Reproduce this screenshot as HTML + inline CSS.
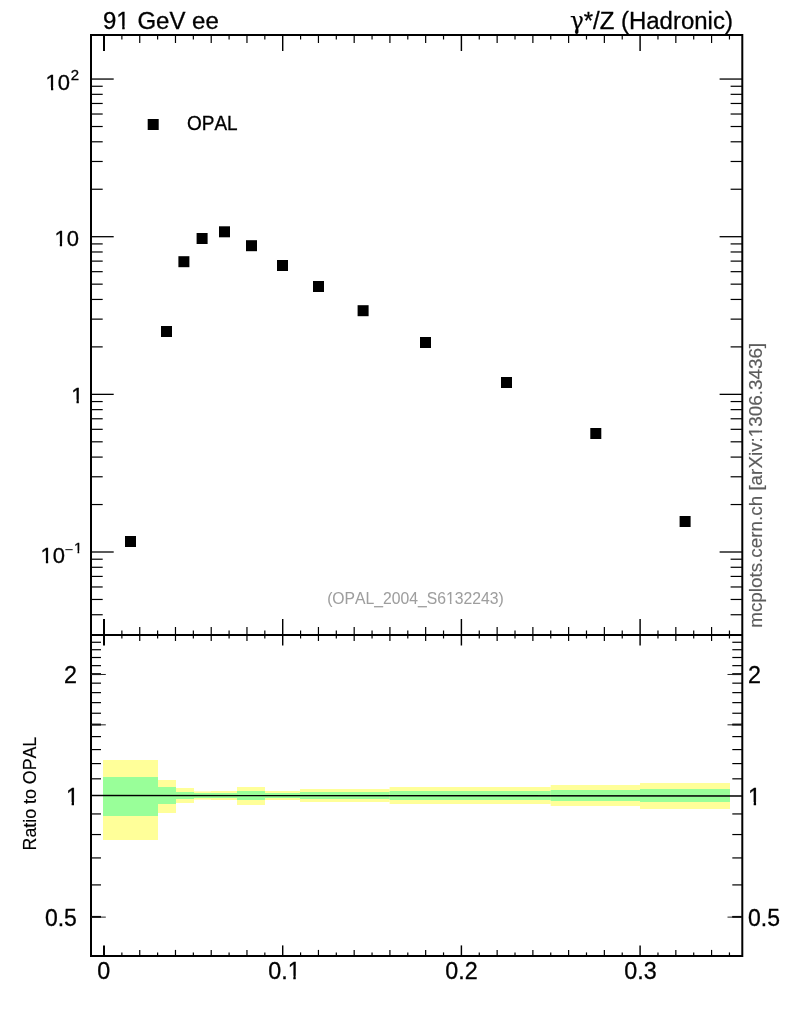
<!DOCTYPE html>
<html lang="en"><head><meta charset="utf-8"><title>OPAL 91 GeV ee</title>
<style>html,body{margin:0;padding:0;background:#fff;overflow:hidden}svg{display:block}text{font-kerning:none;white-space:pre}</style></head>
<body>
<svg width="786" height="1024" viewBox="0 0 786 1024" font-family="'Liberation Sans', 'DejaVu Sans', sans-serif">
<rect x="0.00" y="0.00" width="786.00" height="1024.00" fill="#fff"/>
<g>
<rect x="103.00" y="760.00" width="55.00" height="80.00" fill="#ffff99"/>
<rect x="158.00" y="780.00" width="18.00" height="33.00" fill="#ffff99"/>
<rect x="176.00" y="788.00" width="18.00" height="15.00" fill="#ffff99"/>
<rect x="194.00" y="791.40" width="17.00" height="8.20" fill="#ffff99"/>
<rect x="211.00" y="791.00" width="26.00" height="9.00" fill="#ffff99"/>
<rect x="237.00" y="787.00" width="28.00" height="18.00" fill="#ffff99"/>
<rect x="265.00" y="791.00" width="35.00" height="9.00" fill="#ffff99"/>
<rect x="300.00" y="789.00" width="36.00" height="13.00" fill="#ffff99"/>
<rect x="336.00" y="789.00" width="53.60" height="13.00" fill="#ffff99"/>
<rect x="389.60" y="787.00" width="71.40" height="17.00" fill="#ffff99"/>
<rect x="461.00" y="787.00" width="89.70" height="17.00" fill="#ffff99"/>
<rect x="550.70" y="785.00" width="89.30" height="21.00" fill="#ffff99"/>
<rect x="640.00" y="783.00" width="90.00" height="26.00" fill="#ffff99"/>
<rect x="103.00" y="777.00" width="55.00" height="39.00" fill="#99ff99"/>
<rect x="158.00" y="787.00" width="18.00" height="17.00" fill="#99ff99"/>
<rect x="176.00" y="792.00" width="18.00" height="7.00" fill="#99ff99"/>
<rect x="194.00" y="793.00" width="17.00" height="5.00" fill="#99ff99"/>
<rect x="211.00" y="793.00" width="26.00" height="5.00" fill="#99ff99"/>
<rect x="237.00" y="791.00" width="28.00" height="9.00" fill="#99ff99"/>
<rect x="265.00" y="793.00" width="35.00" height="5.00" fill="#99ff99"/>
<rect x="300.00" y="792.00" width="36.00" height="7.00" fill="#99ff99"/>
<rect x="336.00" y="792.00" width="53.60" height="7.00" fill="#99ff99"/>
<rect x="389.60" y="791.00" width="71.40" height="9.00" fill="#99ff99"/>
<rect x="461.00" y="791.00" width="89.70" height="9.00" fill="#99ff99"/>
<rect x="550.70" y="790.00" width="89.30" height="11.00" fill="#99ff99"/>
<rect x="640.00" y="789.00" width="90.00" height="13.00" fill="#99ff99"/>
</g>
<line x1="91.00" y1="795.45" x2="742.30" y2="796.00" stroke="#000" stroke-width="1.4" />
<g>
<rect x="125.00" y="536.00" width="11.00" height="11.00" fill="#000"/>
<rect x="161.00" y="326.00" width="11.00" height="11.00" fill="#000"/>
<rect x="178.40" y="256.20" width="11.00" height="11.00" fill="#000"/>
<rect x="196.60" y="233.00" width="11.00" height="11.00" fill="#000"/>
<rect x="219.00" y="226.30" width="11.00" height="11.00" fill="#000"/>
<rect x="246.00" y="240.20" width="11.00" height="11.00" fill="#000"/>
<rect x="277.00" y="260.00" width="11.00" height="11.00" fill="#000"/>
<rect x="313.00" y="281.00" width="11.00" height="11.00" fill="#000"/>
<rect x="357.60" y="305.20" width="11.00" height="11.00" fill="#000"/>
<rect x="420.00" y="337.00" width="11.00" height="11.00" fill="#000"/>
<rect x="501.00" y="377.00" width="11.00" height="11.00" fill="#000"/>
<rect x="590.30" y="428.00" width="11.00" height="11.00" fill="#000"/>
<rect x="679.60" y="516.00" width="11.00" height="11.00" fill="#000"/>
<rect x="147.70" y="119.00" width="11.00" height="11.00" fill="#000"/>
</g>
<g stroke="#000" fill="none">
<path d="M91.0 35.0H742.3V955.9H91.0Z" stroke-width="2" stroke-linejoin="miter"/>
<line x1="91.00" y1="635.00" x2="742.30" y2="635.00" stroke="#000" stroke-width="2" />
</g>
<line x1="104.00" y1="35.00" x2="104.00" y2="51.00" stroke="#000" stroke-width="2" />
<line x1="121.87" y1="35.00" x2="121.87" y2="39.50" stroke="#000" stroke-width="1.2" />
<line x1="139.74" y1="35.00" x2="139.74" y2="43.00" stroke="#000" stroke-width="1.2" />
<line x1="157.61" y1="35.00" x2="157.61" y2="39.50" stroke="#000" stroke-width="1.2" />
<line x1="175.48" y1="35.00" x2="175.48" y2="43.00" stroke="#000" stroke-width="1.2" />
<line x1="193.35" y1="35.00" x2="193.35" y2="39.50" stroke="#000" stroke-width="1.2" />
<line x1="211.22" y1="35.00" x2="211.22" y2="43.00" stroke="#000" stroke-width="1.2" />
<line x1="229.09" y1="35.00" x2="229.09" y2="39.50" stroke="#000" stroke-width="1.2" />
<line x1="246.96" y1="35.00" x2="246.96" y2="43.00" stroke="#000" stroke-width="1.2" />
<line x1="264.83" y1="35.00" x2="264.83" y2="39.50" stroke="#000" stroke-width="1.2" />
<line x1="282.70" y1="35.00" x2="282.70" y2="51.00" stroke="#000" stroke-width="1.45" />
<line x1="300.57" y1="35.00" x2="300.57" y2="39.50" stroke="#000" stroke-width="1.2" />
<line x1="318.44" y1="35.00" x2="318.44" y2="43.00" stroke="#000" stroke-width="1.2" />
<line x1="336.31" y1="35.00" x2="336.31" y2="39.50" stroke="#000" stroke-width="1.2" />
<line x1="354.18" y1="35.00" x2="354.18" y2="43.00" stroke="#000" stroke-width="1.2" />
<line x1="372.05" y1="35.00" x2="372.05" y2="39.50" stroke="#000" stroke-width="1.2" />
<line x1="389.92" y1="35.00" x2="389.92" y2="43.00" stroke="#000" stroke-width="1.2" />
<line x1="407.79" y1="35.00" x2="407.79" y2="39.50" stroke="#000" stroke-width="1.2" />
<line x1="425.66" y1="35.00" x2="425.66" y2="43.00" stroke="#000" stroke-width="1.2" />
<line x1="443.53" y1="35.00" x2="443.53" y2="39.50" stroke="#000" stroke-width="1.2" />
<line x1="461.40" y1="35.00" x2="461.40" y2="51.00" stroke="#000" stroke-width="1.45" />
<line x1="479.27" y1="35.00" x2="479.27" y2="39.50" stroke="#000" stroke-width="1.2" />
<line x1="497.14" y1="35.00" x2="497.14" y2="43.00" stroke="#000" stroke-width="1.2" />
<line x1="515.01" y1="35.00" x2="515.01" y2="39.50" stroke="#000" stroke-width="1.2" />
<line x1="532.88" y1="35.00" x2="532.88" y2="43.00" stroke="#000" stroke-width="1.2" />
<line x1="550.75" y1="35.00" x2="550.75" y2="39.50" stroke="#000" stroke-width="1.2" />
<line x1="568.62" y1="35.00" x2="568.62" y2="43.00" stroke="#000" stroke-width="1.2" />
<line x1="586.49" y1="35.00" x2="586.49" y2="39.50" stroke="#000" stroke-width="1.2" />
<line x1="604.36" y1="35.00" x2="604.36" y2="43.00" stroke="#000" stroke-width="1.2" />
<line x1="622.23" y1="35.00" x2="622.23" y2="39.50" stroke="#000" stroke-width="1.2" />
<line x1="640.10" y1="35.00" x2="640.10" y2="51.00" stroke="#000" stroke-width="1.45" />
<line x1="657.97" y1="35.00" x2="657.97" y2="39.50" stroke="#000" stroke-width="1.2" />
<line x1="675.84" y1="35.00" x2="675.84" y2="43.00" stroke="#000" stroke-width="1.2" />
<line x1="693.71" y1="35.00" x2="693.71" y2="39.50" stroke="#000" stroke-width="1.2" />
<line x1="711.58" y1="35.00" x2="711.58" y2="43.00" stroke="#000" stroke-width="1.2" />
<line x1="729.45" y1="35.00" x2="729.45" y2="39.50" stroke="#000" stroke-width="1.2" />
<line x1="104.00" y1="635.00" x2="104.00" y2="619.00" stroke="#000" stroke-width="2" />
<line x1="121.87" y1="635.00" x2="121.87" y2="630.50" stroke="#000" stroke-width="1.2" />
<line x1="139.74" y1="635.00" x2="139.74" y2="627.00" stroke="#000" stroke-width="1.2" />
<line x1="157.61" y1="635.00" x2="157.61" y2="630.50" stroke="#000" stroke-width="1.2" />
<line x1="175.48" y1="635.00" x2="175.48" y2="627.00" stroke="#000" stroke-width="1.2" />
<line x1="193.35" y1="635.00" x2="193.35" y2="630.50" stroke="#000" stroke-width="1.2" />
<line x1="211.22" y1="635.00" x2="211.22" y2="627.00" stroke="#000" stroke-width="1.2" />
<line x1="229.09" y1="635.00" x2="229.09" y2="630.50" stroke="#000" stroke-width="1.2" />
<line x1="246.96" y1="635.00" x2="246.96" y2="627.00" stroke="#000" stroke-width="1.2" />
<line x1="264.83" y1="635.00" x2="264.83" y2="630.50" stroke="#000" stroke-width="1.2" />
<line x1="282.70" y1="635.00" x2="282.70" y2="619.00" stroke="#000" stroke-width="1.45" />
<line x1="300.57" y1="635.00" x2="300.57" y2="630.50" stroke="#000" stroke-width="1.2" />
<line x1="318.44" y1="635.00" x2="318.44" y2="627.00" stroke="#000" stroke-width="1.2" />
<line x1="336.31" y1="635.00" x2="336.31" y2="630.50" stroke="#000" stroke-width="1.2" />
<line x1="354.18" y1="635.00" x2="354.18" y2="627.00" stroke="#000" stroke-width="1.2" />
<line x1="372.05" y1="635.00" x2="372.05" y2="630.50" stroke="#000" stroke-width="1.2" />
<line x1="389.92" y1="635.00" x2="389.92" y2="627.00" stroke="#000" stroke-width="1.2" />
<line x1="407.79" y1="635.00" x2="407.79" y2="630.50" stroke="#000" stroke-width="1.2" />
<line x1="425.66" y1="635.00" x2="425.66" y2="627.00" stroke="#000" stroke-width="1.2" />
<line x1="443.53" y1="635.00" x2="443.53" y2="630.50" stroke="#000" stroke-width="1.2" />
<line x1="461.40" y1="635.00" x2="461.40" y2="619.00" stroke="#000" stroke-width="1.45" />
<line x1="479.27" y1="635.00" x2="479.27" y2="630.50" stroke="#000" stroke-width="1.2" />
<line x1="497.14" y1="635.00" x2="497.14" y2="627.00" stroke="#000" stroke-width="1.2" />
<line x1="515.01" y1="635.00" x2="515.01" y2="630.50" stroke="#000" stroke-width="1.2" />
<line x1="532.88" y1="635.00" x2="532.88" y2="627.00" stroke="#000" stroke-width="1.2" />
<line x1="550.75" y1="635.00" x2="550.75" y2="630.50" stroke="#000" stroke-width="1.2" />
<line x1="568.62" y1="635.00" x2="568.62" y2="627.00" stroke="#000" stroke-width="1.2" />
<line x1="586.49" y1="635.00" x2="586.49" y2="630.50" stroke="#000" stroke-width="1.2" />
<line x1="604.36" y1="635.00" x2="604.36" y2="627.00" stroke="#000" stroke-width="1.2" />
<line x1="622.23" y1="635.00" x2="622.23" y2="630.50" stroke="#000" stroke-width="1.2" />
<line x1="640.10" y1="635.00" x2="640.10" y2="619.00" stroke="#000" stroke-width="1.45" />
<line x1="657.97" y1="635.00" x2="657.97" y2="630.50" stroke="#000" stroke-width="1.2" />
<line x1="675.84" y1="635.00" x2="675.84" y2="627.00" stroke="#000" stroke-width="1.2" />
<line x1="693.71" y1="635.00" x2="693.71" y2="630.50" stroke="#000" stroke-width="1.2" />
<line x1="711.58" y1="635.00" x2="711.58" y2="627.00" stroke="#000" stroke-width="1.2" />
<line x1="729.45" y1="635.00" x2="729.45" y2="630.50" stroke="#000" stroke-width="1.2" />
<line x1="104.00" y1="635.00" x2="104.00" y2="645.50" stroke="#000" stroke-width="2" />
<line x1="121.87" y1="635.00" x2="121.87" y2="638.50" stroke="#000" stroke-width="1.2" />
<line x1="139.74" y1="635.00" x2="139.74" y2="641.00" stroke="#000" stroke-width="1.2" />
<line x1="157.61" y1="635.00" x2="157.61" y2="638.50" stroke="#000" stroke-width="1.2" />
<line x1="175.48" y1="635.00" x2="175.48" y2="641.00" stroke="#000" stroke-width="1.2" />
<line x1="193.35" y1="635.00" x2="193.35" y2="638.50" stroke="#000" stroke-width="1.2" />
<line x1="211.22" y1="635.00" x2="211.22" y2="641.00" stroke="#000" stroke-width="1.2" />
<line x1="229.09" y1="635.00" x2="229.09" y2="638.50" stroke="#000" stroke-width="1.2" />
<line x1="246.96" y1="635.00" x2="246.96" y2="641.00" stroke="#000" stroke-width="1.2" />
<line x1="264.83" y1="635.00" x2="264.83" y2="638.50" stroke="#000" stroke-width="1.2" />
<line x1="282.70" y1="635.00" x2="282.70" y2="645.50" stroke="#000" stroke-width="1.45" />
<line x1="300.57" y1="635.00" x2="300.57" y2="638.50" stroke="#000" stroke-width="1.2" />
<line x1="318.44" y1="635.00" x2="318.44" y2="641.00" stroke="#000" stroke-width="1.2" />
<line x1="336.31" y1="635.00" x2="336.31" y2="638.50" stroke="#000" stroke-width="1.2" />
<line x1="354.18" y1="635.00" x2="354.18" y2="641.00" stroke="#000" stroke-width="1.2" />
<line x1="372.05" y1="635.00" x2="372.05" y2="638.50" stroke="#000" stroke-width="1.2" />
<line x1="389.92" y1="635.00" x2="389.92" y2="641.00" stroke="#000" stroke-width="1.2" />
<line x1="407.79" y1="635.00" x2="407.79" y2="638.50" stroke="#000" stroke-width="1.2" />
<line x1="425.66" y1="635.00" x2="425.66" y2="641.00" stroke="#000" stroke-width="1.2" />
<line x1="443.53" y1="635.00" x2="443.53" y2="638.50" stroke="#000" stroke-width="1.2" />
<line x1="461.40" y1="635.00" x2="461.40" y2="645.50" stroke="#000" stroke-width="1.45" />
<line x1="479.27" y1="635.00" x2="479.27" y2="638.50" stroke="#000" stroke-width="1.2" />
<line x1="497.14" y1="635.00" x2="497.14" y2="641.00" stroke="#000" stroke-width="1.2" />
<line x1="515.01" y1="635.00" x2="515.01" y2="638.50" stroke="#000" stroke-width="1.2" />
<line x1="532.88" y1="635.00" x2="532.88" y2="641.00" stroke="#000" stroke-width="1.2" />
<line x1="550.75" y1="635.00" x2="550.75" y2="638.50" stroke="#000" stroke-width="1.2" />
<line x1="568.62" y1="635.00" x2="568.62" y2="641.00" stroke="#000" stroke-width="1.2" />
<line x1="586.49" y1="635.00" x2="586.49" y2="638.50" stroke="#000" stroke-width="1.2" />
<line x1="604.36" y1="635.00" x2="604.36" y2="641.00" stroke="#000" stroke-width="1.2" />
<line x1="622.23" y1="635.00" x2="622.23" y2="638.50" stroke="#000" stroke-width="1.2" />
<line x1="640.10" y1="635.00" x2="640.10" y2="645.50" stroke="#000" stroke-width="1.45" />
<line x1="657.97" y1="635.00" x2="657.97" y2="638.50" stroke="#000" stroke-width="1.2" />
<line x1="675.84" y1="635.00" x2="675.84" y2="641.00" stroke="#000" stroke-width="1.2" />
<line x1="693.71" y1="635.00" x2="693.71" y2="638.50" stroke="#000" stroke-width="1.2" />
<line x1="711.58" y1="635.00" x2="711.58" y2="641.00" stroke="#000" stroke-width="1.2" />
<line x1="729.45" y1="635.00" x2="729.45" y2="638.50" stroke="#000" stroke-width="1.2" />
<line x1="104.00" y1="955.90" x2="104.00" y2="945.40" stroke="#000" stroke-width="2" />
<line x1="121.87" y1="955.90" x2="121.87" y2="952.40" stroke="#000" stroke-width="1.2" />
<line x1="139.74" y1="955.90" x2="139.74" y2="949.90" stroke="#000" stroke-width="1.2" />
<line x1="157.61" y1="955.90" x2="157.61" y2="952.40" stroke="#000" stroke-width="1.2" />
<line x1="175.48" y1="955.90" x2="175.48" y2="949.90" stroke="#000" stroke-width="1.2" />
<line x1="193.35" y1="955.90" x2="193.35" y2="952.40" stroke="#000" stroke-width="1.2" />
<line x1="211.22" y1="955.90" x2="211.22" y2="949.90" stroke="#000" stroke-width="1.2" />
<line x1="229.09" y1="955.90" x2="229.09" y2="952.40" stroke="#000" stroke-width="1.2" />
<line x1="246.96" y1="955.90" x2="246.96" y2="949.90" stroke="#000" stroke-width="1.2" />
<line x1="264.83" y1="955.90" x2="264.83" y2="952.40" stroke="#000" stroke-width="1.2" />
<line x1="282.70" y1="955.90" x2="282.70" y2="945.40" stroke="#000" stroke-width="1.45" />
<line x1="300.57" y1="955.90" x2="300.57" y2="952.40" stroke="#000" stroke-width="1.2" />
<line x1="318.44" y1="955.90" x2="318.44" y2="949.90" stroke="#000" stroke-width="1.2" />
<line x1="336.31" y1="955.90" x2="336.31" y2="952.40" stroke="#000" stroke-width="1.2" />
<line x1="354.18" y1="955.90" x2="354.18" y2="949.90" stroke="#000" stroke-width="1.2" />
<line x1="372.05" y1="955.90" x2="372.05" y2="952.40" stroke="#000" stroke-width="1.2" />
<line x1="389.92" y1="955.90" x2="389.92" y2="949.90" stroke="#000" stroke-width="1.2" />
<line x1="407.79" y1="955.90" x2="407.79" y2="952.40" stroke="#000" stroke-width="1.2" />
<line x1="425.66" y1="955.90" x2="425.66" y2="949.90" stroke="#000" stroke-width="1.2" />
<line x1="443.53" y1="955.90" x2="443.53" y2="952.40" stroke="#000" stroke-width="1.2" />
<line x1="461.40" y1="955.90" x2="461.40" y2="945.40" stroke="#000" stroke-width="1.45" />
<line x1="479.27" y1="955.90" x2="479.27" y2="952.40" stroke="#000" stroke-width="1.2" />
<line x1="497.14" y1="955.90" x2="497.14" y2="949.90" stroke="#000" stroke-width="1.2" />
<line x1="515.01" y1="955.90" x2="515.01" y2="952.40" stroke="#000" stroke-width="1.2" />
<line x1="532.88" y1="955.90" x2="532.88" y2="949.90" stroke="#000" stroke-width="1.2" />
<line x1="550.75" y1="955.90" x2="550.75" y2="952.40" stroke="#000" stroke-width="1.2" />
<line x1="568.62" y1="955.90" x2="568.62" y2="949.90" stroke="#000" stroke-width="1.2" />
<line x1="586.49" y1="955.90" x2="586.49" y2="952.40" stroke="#000" stroke-width="1.2" />
<line x1="604.36" y1="955.90" x2="604.36" y2="949.90" stroke="#000" stroke-width="1.2" />
<line x1="622.23" y1="955.90" x2="622.23" y2="952.40" stroke="#000" stroke-width="1.2" />
<line x1="640.10" y1="955.90" x2="640.10" y2="945.40" stroke="#000" stroke-width="1.45" />
<line x1="657.97" y1="955.90" x2="657.97" y2="952.40" stroke="#000" stroke-width="1.2" />
<line x1="675.84" y1="955.90" x2="675.84" y2="949.90" stroke="#000" stroke-width="1.2" />
<line x1="693.71" y1="955.90" x2="693.71" y2="952.40" stroke="#000" stroke-width="1.2" />
<line x1="711.58" y1="955.90" x2="711.58" y2="949.90" stroke="#000" stroke-width="1.2" />
<line x1="729.45" y1="955.90" x2="729.45" y2="952.40" stroke="#000" stroke-width="1.2" />
<line x1="91.00" y1="614.74" x2="102.70" y2="614.74" stroke="#000" stroke-width="1.2" />
<line x1="742.30" y1="614.74" x2="730.60" y2="614.74" stroke="#000" stroke-width="1.2" />
<line x1="91.00" y1="599.46" x2="102.70" y2="599.46" stroke="#000" stroke-width="1.2" />
<line x1="742.30" y1="599.46" x2="730.60" y2="599.46" stroke="#000" stroke-width="1.2" />
<line x1="91.00" y1="586.97" x2="102.70" y2="586.97" stroke="#000" stroke-width="1.2" />
<line x1="742.30" y1="586.97" x2="730.60" y2="586.97" stroke="#000" stroke-width="1.2" />
<line x1="91.00" y1="576.42" x2="102.70" y2="576.42" stroke="#000" stroke-width="1.2" />
<line x1="742.30" y1="576.42" x2="730.60" y2="576.42" stroke="#000" stroke-width="1.2" />
<line x1="91.00" y1="567.28" x2="102.70" y2="567.28" stroke="#000" stroke-width="1.2" />
<line x1="742.30" y1="567.28" x2="730.60" y2="567.28" stroke="#000" stroke-width="1.2" />
<line x1="91.00" y1="559.21" x2="102.70" y2="559.21" stroke="#000" stroke-width="1.2" />
<line x1="742.30" y1="559.21" x2="730.60" y2="559.21" stroke="#000" stroke-width="1.2" />
<line x1="91.00" y1="552.00" x2="113.70" y2="552.00" stroke="#000" stroke-width="1.3" />
<line x1="742.30" y1="552.00" x2="719.60" y2="552.00" stroke="#000" stroke-width="1.3" />
<line x1="91.00" y1="504.54" x2="102.70" y2="504.54" stroke="#000" stroke-width="1.2" />
<line x1="742.30" y1="504.54" x2="730.60" y2="504.54" stroke="#000" stroke-width="1.2" />
<line x1="91.00" y1="476.78" x2="102.70" y2="476.78" stroke="#000" stroke-width="1.2" />
<line x1="742.30" y1="476.78" x2="730.60" y2="476.78" stroke="#000" stroke-width="1.2" />
<line x1="91.00" y1="457.09" x2="102.70" y2="457.09" stroke="#000" stroke-width="1.2" />
<line x1="742.30" y1="457.09" x2="730.60" y2="457.09" stroke="#000" stroke-width="1.2" />
<line x1="91.00" y1="441.81" x2="102.70" y2="441.81" stroke="#000" stroke-width="1.2" />
<line x1="742.30" y1="441.81" x2="730.60" y2="441.81" stroke="#000" stroke-width="1.2" />
<line x1="91.00" y1="429.32" x2="102.70" y2="429.32" stroke="#000" stroke-width="1.2" />
<line x1="742.30" y1="429.32" x2="730.60" y2="429.32" stroke="#000" stroke-width="1.2" />
<line x1="91.00" y1="418.77" x2="102.70" y2="418.77" stroke="#000" stroke-width="1.2" />
<line x1="742.30" y1="418.77" x2="730.60" y2="418.77" stroke="#000" stroke-width="1.2" />
<line x1="91.00" y1="409.63" x2="102.70" y2="409.63" stroke="#000" stroke-width="1.2" />
<line x1="742.30" y1="409.63" x2="730.60" y2="409.63" stroke="#000" stroke-width="1.2" />
<line x1="91.00" y1="401.56" x2="102.70" y2="401.56" stroke="#000" stroke-width="1.2" />
<line x1="742.30" y1="401.56" x2="730.60" y2="401.56" stroke="#000" stroke-width="1.2" />
<line x1="91.00" y1="394.35" x2="113.70" y2="394.35" stroke="#000" stroke-width="1.3" />
<line x1="742.30" y1="394.35" x2="719.60" y2="394.35" stroke="#000" stroke-width="1.3" />
<line x1="91.00" y1="346.89" x2="102.70" y2="346.89" stroke="#000" stroke-width="1.2" />
<line x1="742.30" y1="346.89" x2="730.60" y2="346.89" stroke="#000" stroke-width="1.2" />
<line x1="91.00" y1="319.13" x2="102.70" y2="319.13" stroke="#000" stroke-width="1.2" />
<line x1="742.30" y1="319.13" x2="730.60" y2="319.13" stroke="#000" stroke-width="1.2" />
<line x1="91.00" y1="299.44" x2="102.70" y2="299.44" stroke="#000" stroke-width="1.2" />
<line x1="742.30" y1="299.44" x2="730.60" y2="299.44" stroke="#000" stroke-width="1.2" />
<line x1="91.00" y1="284.16" x2="102.70" y2="284.16" stroke="#000" stroke-width="1.2" />
<line x1="742.30" y1="284.16" x2="730.60" y2="284.16" stroke="#000" stroke-width="1.2" />
<line x1="91.00" y1="271.67" x2="102.70" y2="271.67" stroke="#000" stroke-width="1.2" />
<line x1="742.30" y1="271.67" x2="730.60" y2="271.67" stroke="#000" stroke-width="1.2" />
<line x1="91.00" y1="261.12" x2="102.70" y2="261.12" stroke="#000" stroke-width="1.2" />
<line x1="742.30" y1="261.12" x2="730.60" y2="261.12" stroke="#000" stroke-width="1.2" />
<line x1="91.00" y1="251.98" x2="102.70" y2="251.98" stroke="#000" stroke-width="1.2" />
<line x1="742.30" y1="251.98" x2="730.60" y2="251.98" stroke="#000" stroke-width="1.2" />
<line x1="91.00" y1="243.91" x2="102.70" y2="243.91" stroke="#000" stroke-width="1.2" />
<line x1="742.30" y1="243.91" x2="730.60" y2="243.91" stroke="#000" stroke-width="1.2" />
<line x1="91.00" y1="236.70" x2="113.70" y2="236.70" stroke="#000" stroke-width="1.3" />
<line x1="742.30" y1="236.70" x2="719.60" y2="236.70" stroke="#000" stroke-width="1.3" />
<line x1="91.00" y1="189.24" x2="102.70" y2="189.24" stroke="#000" stroke-width="1.2" />
<line x1="742.30" y1="189.24" x2="730.60" y2="189.24" stroke="#000" stroke-width="1.2" />
<line x1="91.00" y1="161.48" x2="102.70" y2="161.48" stroke="#000" stroke-width="1.2" />
<line x1="742.30" y1="161.48" x2="730.60" y2="161.48" stroke="#000" stroke-width="1.2" />
<line x1="91.00" y1="141.79" x2="102.70" y2="141.79" stroke="#000" stroke-width="1.2" />
<line x1="742.30" y1="141.79" x2="730.60" y2="141.79" stroke="#000" stroke-width="1.2" />
<line x1="91.00" y1="126.51" x2="102.70" y2="126.51" stroke="#000" stroke-width="1.2" />
<line x1="742.30" y1="126.51" x2="730.60" y2="126.51" stroke="#000" stroke-width="1.2" />
<line x1="91.00" y1="114.02" x2="102.70" y2="114.02" stroke="#000" stroke-width="1.2" />
<line x1="742.30" y1="114.02" x2="730.60" y2="114.02" stroke="#000" stroke-width="1.2" />
<line x1="91.00" y1="103.47" x2="102.70" y2="103.47" stroke="#000" stroke-width="1.2" />
<line x1="742.30" y1="103.47" x2="730.60" y2="103.47" stroke="#000" stroke-width="1.2" />
<line x1="91.00" y1="94.33" x2="102.70" y2="94.33" stroke="#000" stroke-width="1.2" />
<line x1="742.30" y1="94.33" x2="730.60" y2="94.33" stroke="#000" stroke-width="1.2" />
<line x1="91.00" y1="86.26" x2="102.70" y2="86.26" stroke="#000" stroke-width="1.2" />
<line x1="742.30" y1="86.26" x2="730.60" y2="86.26" stroke="#000" stroke-width="1.2" />
<line x1="91.00" y1="79.05" x2="113.70" y2="79.05" stroke="#000" stroke-width="1.3" />
<line x1="742.30" y1="79.05" x2="719.60" y2="79.05" stroke="#000" stroke-width="1.3" />
<line x1="91.00" y1="916.82" x2="101.00" y2="916.82" stroke="#000" stroke-width="1.2" />
<line x1="742.30" y1="916.82" x2="732.30" y2="916.82" stroke="#000" stroke-width="1.2" />
<line x1="91.00" y1="884.91" x2="101.00" y2="884.91" stroke="#000" stroke-width="1.2" />
<line x1="742.30" y1="884.91" x2="732.30" y2="884.91" stroke="#000" stroke-width="1.2" />
<line x1="91.00" y1="857.93" x2="101.00" y2="857.93" stroke="#000" stroke-width="1.2" />
<line x1="742.30" y1="857.93" x2="732.30" y2="857.93" stroke="#000" stroke-width="1.2" />
<line x1="91.00" y1="834.55" x2="101.00" y2="834.55" stroke="#000" stroke-width="1.2" />
<line x1="742.30" y1="834.55" x2="732.30" y2="834.55" stroke="#000" stroke-width="1.2" />
<line x1="91.00" y1="813.94" x2="101.00" y2="813.94" stroke="#000" stroke-width="1.2" />
<line x1="742.30" y1="813.94" x2="732.30" y2="813.94" stroke="#000" stroke-width="1.2" />
<line x1="91.00" y1="778.82" x2="101.00" y2="778.82" stroke="#000" stroke-width="1.2" />
<line x1="742.30" y1="778.82" x2="732.30" y2="778.82" stroke="#000" stroke-width="1.2" />
<line x1="91.00" y1="763.59" x2="101.00" y2="763.59" stroke="#000" stroke-width="1.2" />
<line x1="742.30" y1="763.59" x2="732.30" y2="763.59" stroke="#000" stroke-width="1.2" />
<line x1="91.00" y1="749.58" x2="101.00" y2="749.58" stroke="#000" stroke-width="1.2" />
<line x1="742.30" y1="749.58" x2="732.30" y2="749.58" stroke="#000" stroke-width="1.2" />
<line x1="91.00" y1="736.61" x2="101.00" y2="736.61" stroke="#000" stroke-width="1.2" />
<line x1="742.30" y1="736.61" x2="732.30" y2="736.61" stroke="#000" stroke-width="1.2" />
<line x1="91.00" y1="724.54" x2="101.00" y2="724.54" stroke="#000" stroke-width="1.2" />
<line x1="742.30" y1="724.54" x2="732.30" y2="724.54" stroke="#000" stroke-width="1.2" />
<line x1="91.00" y1="713.24" x2="101.00" y2="713.24" stroke="#000" stroke-width="1.2" />
<line x1="742.30" y1="713.24" x2="732.30" y2="713.24" stroke="#000" stroke-width="1.2" />
<line x1="91.00" y1="702.63" x2="101.00" y2="702.63" stroke="#000" stroke-width="1.2" />
<line x1="742.30" y1="702.63" x2="732.30" y2="702.63" stroke="#000" stroke-width="1.2" />
<line x1="91.00" y1="692.63" x2="101.00" y2="692.63" stroke="#000" stroke-width="1.2" />
<line x1="742.30" y1="692.63" x2="732.30" y2="692.63" stroke="#000" stroke-width="1.2" />
<line x1="91.00" y1="683.16" x2="101.00" y2="683.16" stroke="#000" stroke-width="1.2" />
<line x1="742.30" y1="683.16" x2="732.30" y2="683.16" stroke="#000" stroke-width="1.2" />
<line x1="91.00" y1="674.18" x2="101.00" y2="674.18" stroke="#000" stroke-width="1.2" />
<line x1="742.30" y1="674.18" x2="732.30" y2="674.18" stroke="#000" stroke-width="1.2" />
<line x1="91.00" y1="665.65" x2="101.00" y2="665.65" stroke="#000" stroke-width="1.2" />
<line x1="742.30" y1="665.65" x2="732.30" y2="665.65" stroke="#000" stroke-width="1.2" />
<line x1="91.00" y1="657.50" x2="101.00" y2="657.50" stroke="#000" stroke-width="1.2" />
<line x1="742.30" y1="657.50" x2="732.30" y2="657.50" stroke="#000" stroke-width="1.2" />
<line x1="91.00" y1="649.72" x2="101.00" y2="649.72" stroke="#000" stroke-width="1.2" />
<line x1="742.30" y1="649.72" x2="732.30" y2="649.72" stroke="#000" stroke-width="1.2" />
<line x1="91.00" y1="642.27" x2="101.00" y2="642.27" stroke="#000" stroke-width="1.2" />
<line x1="742.30" y1="642.27" x2="732.30" y2="642.27" stroke="#000" stroke-width="1.2" />
<line x1="91.00" y1="916.82" x2="101.00" y2="916.82" stroke="#000" stroke-width="1.8" />
<line x1="742.30" y1="916.82" x2="732.30" y2="916.82" stroke="#000" stroke-width="1.8" />
<line x1="91.00" y1="917.12" x2="105.80" y2="917.12" stroke="#222" stroke-width="1.0" />
<line x1="742.30" y1="917.12" x2="727.50" y2="917.12" stroke="#222" stroke-width="1.0" />
<line x1="91.00" y1="724.54" x2="101.00" y2="724.54" stroke="#000" stroke-width="1.8" />
<line x1="742.30" y1="724.54" x2="732.30" y2="724.54" stroke="#000" stroke-width="1.8" />
<line x1="91.00" y1="724.84" x2="105.80" y2="724.84" stroke="#222" stroke-width="1.0" />
<line x1="742.30" y1="724.84" x2="727.50" y2="724.84" stroke="#222" stroke-width="1.0" />
<line x1="91.00" y1="674.18" x2="101.00" y2="674.18" stroke="#000" stroke-width="1.8" />
<line x1="742.30" y1="674.18" x2="732.30" y2="674.18" stroke="#000" stroke-width="1.8" />
<line x1="91.00" y1="674.48" x2="105.80" y2="674.48" stroke="#222" stroke-width="1.0" />
<line x1="742.30" y1="674.48" x2="727.50" y2="674.48" stroke="#222" stroke-width="1.0" />
<clipPath id="c1"><path clip-rule="evenodd" d="M-900 -900H900V900H-900ZM-32.94 -2.90H-28.23V3.00H-32.94ZM-25.99 -2.90H-21.45V3.00H-25.99Z"/></clipPath>
<text transform="translate(79.20 90.00) scale(1 1.035)" x="-33.61" y="0.00" font-size="22" fill="#000" stroke="#000" stroke-width="0.3" clip-path="url(#c1)">10<tspan x="-8.34" y="-9.28" font-size="15">2</tspan></text>
<clipPath id="c2"><path clip-rule="evenodd" d="M-900 -900H900V900H-900ZM-41.10 -2.90H-36.39V3.00H-41.10ZM-34.15 -2.90H-29.61V3.00H-34.15ZM-8.20 -12.18H-4.72V-6.28H-8.20ZM-3.09 -12.18H0.27V-6.28H-3.09Z"/></clipPath>
<text transform="translate(82.30 563.00) scale(1 1.035)" x="-41.77" y="0.00" font-size="22" fill="#000" stroke="#000" stroke-width="0.3" clip-path="url(#c2)">10<tspan x="-17.80" y="-7.83" font-size="15" fill="#222" stroke="#222" stroke-width="0">−</tspan><tspan x="-8.34" y="-9.28" font-size="15">1</tspan></text>
<clipPath id="c3"><path clip-rule="evenodd" d="M-900 -900H900V900H-900ZM-23.79 -2.90H-19.09V3.00H-23.79ZM-16.84 -2.90H-12.31V3.00H-16.84Z"/></clipPath>
<text transform="translate(78.90 246.00) scale(1 1.035)" x="-24.47" y="0.00" font-size="22" fill="#000" stroke="#000" stroke-width="0.3" clip-path="url(#c3)">10</text>
<clipPath id="c4"><path clip-rule="evenodd" d="M-900 -900H900V900H-900ZM-11.56 -2.90H-6.85V3.00H-11.56ZM-4.61 -2.90H-0.07V3.00H-4.61Z"/></clipPath>
<text transform="translate(83.40 402.50) scale(1 1.035)" x="-12.24" y="0.00" font-size="22" fill="#000" stroke="#000" stroke-width="0.3" clip-path="url(#c4)">1</text>
<text transform="translate(77.00 682.90) scale(1 1.015)" x="-12.96" y="0.00" font-size="23.3" fill="#000" stroke="#000" stroke-width="0.3">2</text>
<clipPath id="c5"><path clip-rule="evenodd" d="M-900 -900H900V900H-900ZM-12.18 -2.90H-7.25V3.00H-12.18ZM-4.89 -2.90H-0.14V3.00H-4.89Z"/></clipPath>
<text transform="translate(78.90 805.00)" x="-12.96" y="0.00" font-size="23.3" fill="#000" stroke="#000" stroke-width="0.3" clip-path="url(#c5)">1</text>
<text transform="translate(76.90 925.50) scale(1 1.015)" x="-31.97" y="0.00" font-size="23.0" fill="#000" stroke="#000" stroke-width="0.3">0.5</text>
<text transform="translate(748.00 682.90) scale(1 1.015)" x="0.00" y="0.00" font-size="23.3" fill="#000" stroke="#000" stroke-width="0.3">2</text>
<clipPath id="c6"><path clip-rule="evenodd" d="M-900 -900H900V900H-900ZM0.77 -2.90H5.71V3.00H0.77ZM8.07 -2.90H12.82V3.00H8.07Z"/></clipPath>
<text transform="translate(748.00 805.00)" x="0.00" y="0.00" font-size="23.3" fill="#000" stroke="#000" stroke-width="0.3" clip-path="url(#c6)">1</text>
<text transform="translate(748.00 925.50) scale(1 1.015)" x="0.00" y="0.00" font-size="23.0" fill="#000" stroke="#000" stroke-width="0.3">0.5</text>
<text transform="translate(103.60 978.70) scale(1 1.025)" x="-6.48" y="0.00" font-size="23.3" fill="#000" stroke="#000" stroke-width="0.3">0</text>
<clipPath id="c7"><path clip-rule="evenodd" d="M-900 -900H900V900H-900ZM4.01 -2.90H8.95V3.00H4.01ZM11.31 -2.90H16.06V3.00H11.31Z"/></clipPath>
<text transform="translate(284.40 978.70) scale(1 1.025)" x="-16.20" y="0.00" font-size="23.3" fill="#000" stroke="#000" stroke-width="0.3" clip-path="url(#c7)">0.1</text>
<text transform="translate(461.40 978.70) scale(1 1.025)" x="-16.20" y="0.00" font-size="23.3" fill="#000" stroke="#000" stroke-width="0.3">0.2</text>
<text transform="translate(640.40 978.70) scale(1 1.025)" x="-16.20" y="0.00" font-size="23.3" fill="#000" stroke="#000" stroke-width="0.3">0.3</text>
<clipPath id="c8"><path clip-rule="evenodd" d="M-900 -900H900V900H-900ZM14.18 -2.90H19.23V3.00H14.18ZM21.65 -2.90H26.52V3.00H21.65Z"/></clipPath>
<text transform="translate(103.00 28.80) scale(1 1.035)" x="0.00" y="0.00" font-size="24" fill="#000" stroke="#000" stroke-width="0.3" clip-path="url(#c8)">91 <tspan x="34.46" y="0.00" font-size="24">GeV ee</tspan></text>
<text transform="translate(733.00 28.80) scale(1 1.035)" x="-149.37" y="0.00" font-size="24" fill="#000" stroke="#000" stroke-width="0.3"><tspan x="-164.00" y="0.00" font-size="23.2" font-family="DejaVu Math TeX Gyre, DejaVu Serif, Liberation Serif, serif" stroke-width="0.2">γ</tspan><tspan x="-149.37" y="0.00" font-size="24">*/Z (Hadronic)</tspan></text>
<text transform="translate(187.00 130.00) scale(1 1.035)" x="0.00" y="0.00" font-size="19" fill="#000" stroke="#000" stroke-width="0.3">OPAL</text>
<clipPath id="c9"><path clip-rule="evenodd" d="M-900 -900H900V900H-900ZM30.80 -2.90H34.41V3.00H30.80ZM36.10 -2.90H39.58V3.00H36.10Z"/></clipPath>
<text transform="translate(415.45 604.20) scale(1 1.03)" x="-88.33" y="0.00" font-size="15.73" fill="#9e9e9e" stroke="#9e9e9e" stroke-width="0.05" clip-path="url(#c9)">(OPAL_2004_S6132243)</text>
<clipPath id="c10"><path clip-rule="evenodd" d="M-900 -900H900V900H-900ZM191.09 -2.90H195.24V3.00H191.09ZM197.21 -2.90H201.22V3.00H197.21Z"/></clipPath>
<text transform="translate(762.10 627.80) rotate(-90)" x="0.00" y="0.00" font-size="18.85" fill="#5c5c5c" stroke="#5c5c5c" stroke-width="0.15" clip-path="url(#c10)">mcplots.cern.ch [arXiv:1306.3436]</text>
<text transform="translate(36.10 850.40) rotate(-90) scale(1 1.03)" x="0.00" y="0.00" font-size="17.8" fill="#000" stroke="#000" stroke-width="0.15">Ratio to OPAL</text>
</svg>
</body></html>
